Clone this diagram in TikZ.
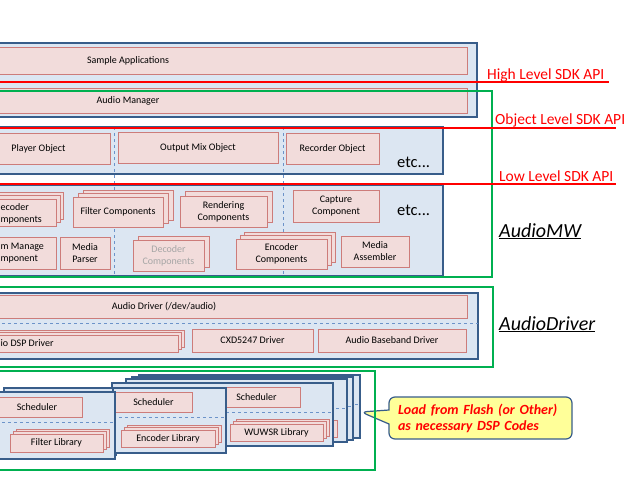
\documentclass[tikz,border=0pt]{standalone}
\usepackage{fontspec}
\setmainfont{Carlito}
\usetikzlibrary{shapes.callouts}
\definecolor{cfill}{HTML}{DCE6F2}
\definecolor{cblue}{HTML}{385D8A}
\definecolor{bfill}{HTML}{F2DCDB}
\definecolor{bred}{HTML}{CD7C7A}
\definecolor{ggreen}{HTML}{00B050}
\definecolor{dblue}{HTML}{6C93C9}
\definecolor{gtext}{HTML}{A6A6A6}
\definecolor{yellowc}{HTML}{FFFF99}
% \drawbox[style]{name}{x1}{y1}{x2}{y2}{text}
\newcommand{\drawbox}[7][box]{%
  \node[#1, minimum width={(#5)-(#3)}, minimum height={(#6)-(#4)}] (#2)
    at ({((#3)+(#5))/2},{((#4)+(#6))/2}) {#7};}
\begin{document}
\begin{tikzpicture}[x=1pt,y=-1pt,
 cont/.style={draw=cblue, line width=1.9pt, fill=cfill, inner sep=0pt},
 dspc/.style={cont, line width=1.6pt},
 box/.style={draw=bred, line width=0.8pt, fill=bfill, inner sep=0pt, align=center, font=\fontsize{10}{12}\selectfont},
 gbox/.style={box, text=gtext},
 frag/.style={anchor=west, inner sep=0pt, align=left, font=\fontsize{10}{12}\selectfont},
 apiline/.style={draw=red, line width=2.9pt},
 apitext/.style={text=red, font=\fontsize{15.5}{17}\selectfont, anchor=base west, inner sep=0pt},
 grn/.style={draw=ggreen, line width=1.9pt},
 divline/.style={draw=dblue, dashed, line width=0.6pt},
 etcs/.style={font=\fontsize{16.5}{18}\selectfont, anchor=base west, inner sep=0pt},
 layer/.style={font=\fontsize{20}{24}\selectfont\itshape, anchor=base west, inner sep=0pt}]
\useasboundingbox (0,0) rectangle (640,480);
\clip (0,0) rectangle (640,480);
\fill[white] (0,0) rectangle (640,480);

% ---------- top container ----------
\drawbox[cont]{topc}{-10}{43}{477}{117}{}
\drawbox{sapp}{-211}{47}{467}{74}{Sample Applications}
\drawbox{amgr}{-211}{88}{467}{113}{Audio Manager}

% ---------- object / component containers ----------
\drawbox[cont]{objc}{-10}{127}{443}{174}{}
\drawbox[cont]{compc}{-10}{185}{443}{276}{}
\draw[divline] (114,127) -- (114,276);
\draw[divline] (283,127) -- (283,276);

\drawbox{player}{-33}{133}{110}{164}{Player Object}
\drawbox{outmix}{118}{132}{278}{163}{Output Mix Object}
\drawbox{recorder}{286}{133}{379}{164}{Recorder Object}
\node[etcs] (etc1) at (397,167) {etc...};

% decoder stack
\drawbox{dec3}{-31}{192}{63}{219}{}
\drawbox{dec2}{-34}{195}{60}{222}{}
\drawbox{dec1}{-38}{199}{56}{226}{}
\node[frag] (dect) at (0.5,214) {ecoder\\mponents};
% filter stack
\drawbox{fil3}{83}{190}{173}{220}{}
\drawbox{fil2}{78}{193}{168}{223}{}
\drawbox{fil1}{73}{197}{163}{227}{Filter Components}
% rendering stack
\drawbox{ren2}{185}{191}{272}{222}{}
\drawbox{ren1}{180}{196}{267}{227}{Rendering\\Components}
\drawbox{capture}{293}{190}{379}{222}{Capture\\Component}
\node[etcs] (etc2) at (397,215) {etc...};
\drawbox{stream}{-37}{237}{56}{269}{}
\node[frag] (streamt) at (0.5,253) {m Manage\\mponent};
\drawbox{parser}{60}{237}{110}{269}{Media\\Parser}
% grey decoder stack
\drawbox{gdec2}{138}{236}{209}{267}{}
\drawbox[gbox]{gdec1}{133}{240}{204}{271}{Decoder\\Components}
% encoder stack
\drawbox{enc3}{244}{232}{335}{262}{}
\drawbox{enc2}{240}{235}{331}{265}{}
\drawbox{enc1}{236}{239}{327}{269}{Encoder\\Components}
\drawbox{assembler}{341}{236}{409}{267}{Media\\Assembler}

% AudioMW green box
\draw[grn] (-10,91) -- (492,91) -- (492,277) -- (-10,277);

% API lines
\draw[apiline] (-10,82) -- (609,82);
\draw[apiline] (-10,128) -- (616,128);
\draw[apiline] (-10,184) -- (616,184);
\node[apitext] (hapi) at (487,79) {High Level SDK API};
\node[apitext] (oapi) at (495,124) {Object Level SDK API};
\node[apitext] (lapi) at (499,181) {Low Level SDK API};
\node[layer] (mw) at (499,237) {\underline{AudioMW}};

% ---------- AudioDriver ----------
\draw[grn] (-10,287) -- (493,287) -- (493,367) -- (-10,367);
\drawbox[cont]{drvc}{-10}{293}{478}{359}{}
\drawbox{adrv}{-139}{295}{467}{318}{Audio Driver (/dev/audio)}
\draw[divline] (-10,323) -- (478,323);
\drawbox{dsp3}{-133}{330}{184}{347}{}
\drawbox{dsp2}{-136}{332}{181}{349}{}
\drawbox{dsp1}{-139}{335}{178}{352}{}
\node[frag] (dspt) at (0.5,343.5) {io DSP Driver};
\drawbox{cxd}{192}{329}{313}{352}{CXD5247 Driver}
\drawbox{baseband}{318}{329}{466}{352}{Audio Baseband Driver}
\node[layer] (drvlabel) at (499,330) {\underline{AudioDriver}};

% ---------- DSP ----------
\foreach \dx/\dy/\k in {27/-8/3, 20/-6/2, 14/-4/1} {
 \begin{scope}[shift={(\dx,\dy)}]
  \drawbox[dspc]{cb\k}{112}{383}{333}{446}{}
  \drawbox{cbs\k}{213}{387}{300}{407}{}
  \draw[divline] (112,412) -- (333,412);
  \drawbox{cbl\k}{230}{424}{323}{441}{}
 \end{scope}
}
\drawbox[dspc]{cmod}{112}{383}{333}{446}{}
\drawbox{csch}{213}{387}{300}{407}{Scheduler}
\draw[divline] (112,412) -- (333,412);
\drawbox{wuw3}{236}{419}{329}{436}{}
\drawbox{wuw2}{233}{421}{326}{438}{}
\drawbox{wuw1}{230}{424}{323}{441}{WUWSR Library}

\drawbox[dspc]{amodb}{4}{388}{116}{455}{}

\drawbox[dspc]{bmod}{113}{388}{226}{453}{}
\drawbox{bsch}{115}{392}{192}{412}{Scheduler}
\draw[divline] (113,417) -- (226,417);
\drawbox{encl3}{127}{425}{221}{442}{}
\drawbox{encl2}{124}{427}{218}{444}{}
\drawbox{encl1}{121}{430}{215}{447}{Encoder Library}

\drawbox[dspc]{amod}{-10}{392}{115}{459}{}
\drawbox{asch}{-8}{397}{82}{417}{Scheduler}
\draw[divline] (-10,422) -- (115,422);
\drawbox{fl3}{16}{429}{109}{447}{}
\drawbox{fl2}{13}{431}{106}{449}{}
\drawbox{fl1}{10}{434}{103}{452}{Filter Library}

% callout
\coordinate (ptr) at (361,412);
\node[rectangle callout, rounded corners=6pt, fill=yellowc, draw=cblue, line width=1.2pt,
 minimum width=183pt, minimum height=42pt, inner sep=4pt,
 callout absolute pointer={(ptr)}, callout pointer width=14pt,
 text width=165pt, align=left, text=red,
 font=\fontsize{14}{16}\selectfont\bfseries\itshape] (note) at (480.5,418)
 {Load from Flash (or Other)\\as necessary DSP Codes};

% DSP green box
\draw[grn] (-10,371) -- (375,371) -- (375,470) -- (-10,470);
\end{tikzpicture}
\end{document}
